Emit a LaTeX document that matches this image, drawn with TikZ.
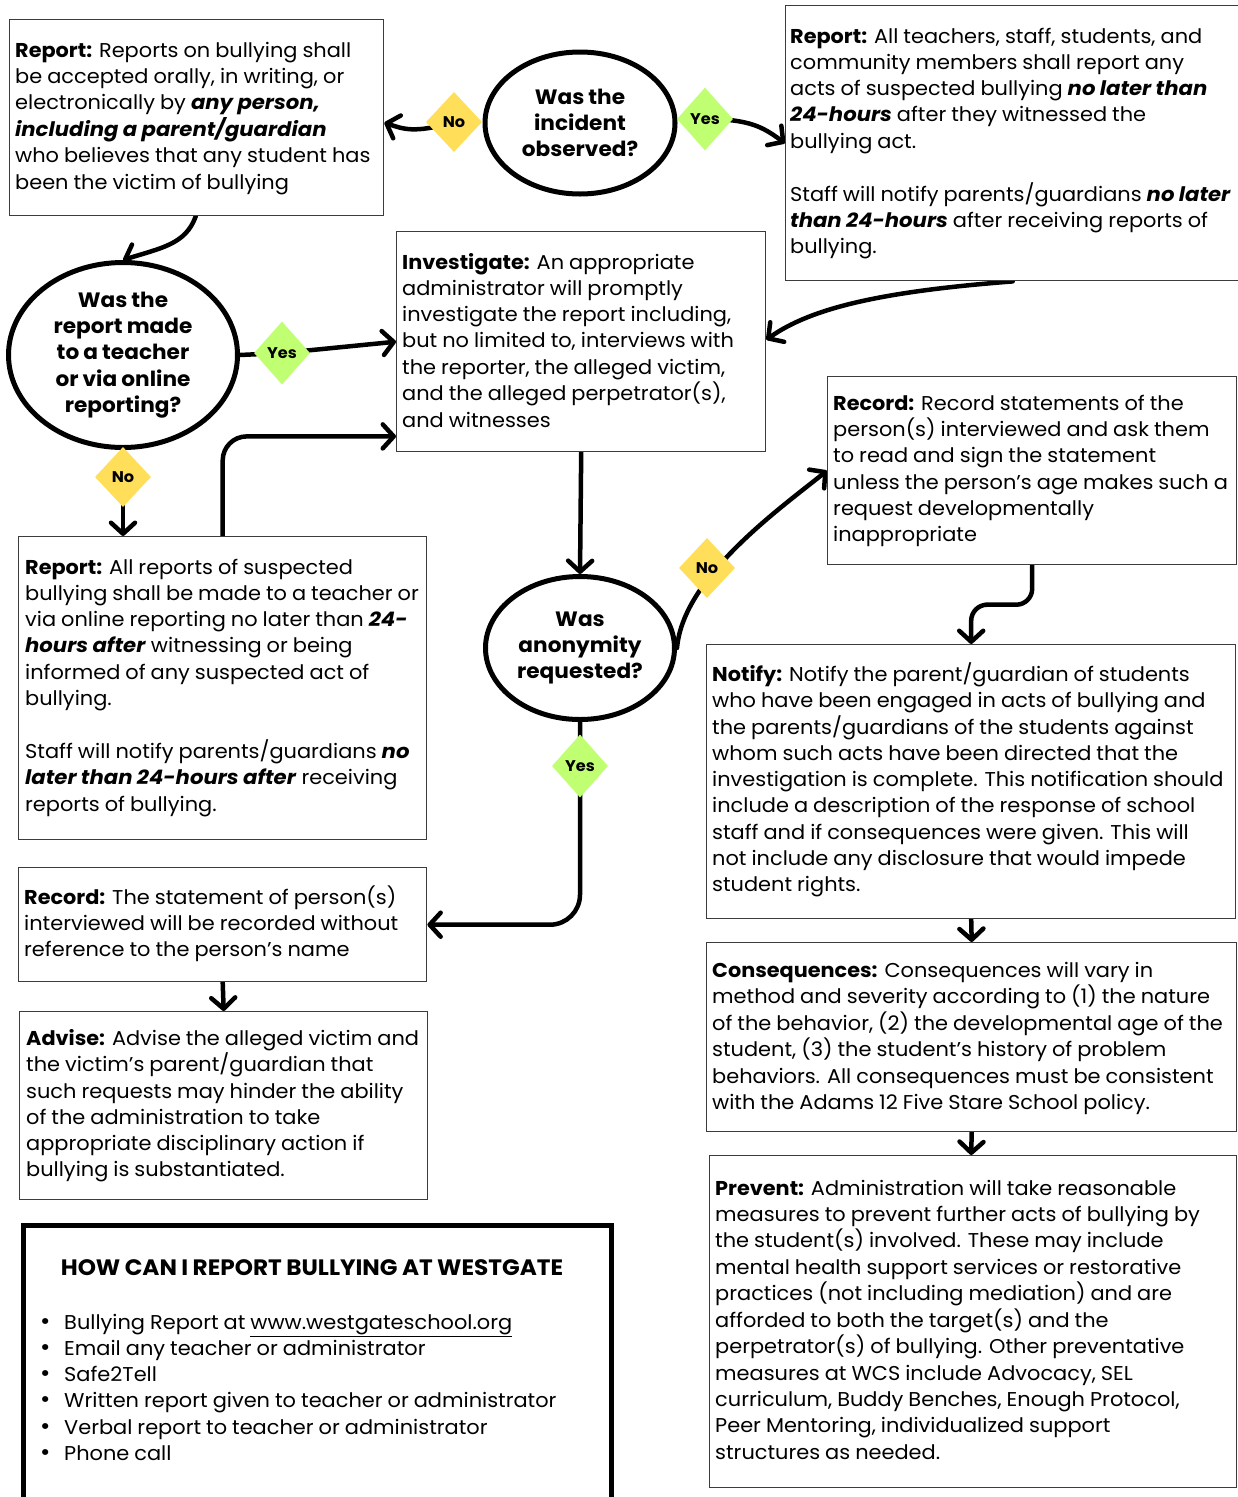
\documentclass[tikz,border=0pt]{standalone}
\usepackage{fontspec}
\setmainfont{Poppins}[FakeStretch=1.045, WordSpace=0.9, BoldFeatures={FakeStretch=1.04}, BoldItalicFeatures={FakeStretch=1.06}]
\usetikzlibrary{shapes.geometric,arrows.meta,calc}
\definecolor{dyes}{HTML}{C1FF72}
\definecolor{dno}{HTML}{FFDE59}
\definecolor{boxline}{HTML}{3C3C3C}
\newcommand{\bodyf}{\fontsize{20}{26.3}\selectfont}
\newcommand{\tb}[1]{\begin{tabular}[t]{@{}l@{}}#1\end{tabular}}
\newcommand{\bi}[1]{\textbf{\textit{#1}}}
\newcommand{\bul}{{\fontsize{24}{20}\selectfont •}}
\pgfdeclarelayer{bg}
\pgfsetlayers{bg,main}
\begin{document}
\begin{tikzpicture}[x=1pt,y=-1pt,
  box/.style={draw=boxline, line width=1.4pt, fill=white, rectangle, anchor=north west, inner sep=0pt},
  txt/.style={anchor=base west, inner sep=0pt, font=\bodyf, text=black},
  quest/.style={ellipse, draw=black, line width=5pt, fill=white, inner sep=0pt, align=center, font=\fontsize{20.8}{26.3}\selectfont\bfseries},
  yesd/.style={diamond, fill=dyes, inner sep=0pt, minimum width=56pt, minimum height=63pt, font=\fontsize{15.5}{18}\selectfont\bfseries},
  nod/.style={diamond, fill=dno, inner sep=0pt, minimum width=56pt, minimum height=60pt, font=\fontsize{15.5}{18}\selectfont\bfseries},
  conn/.style={draw=black, line width=4.5pt, line cap=round, line join=round, -{Straight Barb[length=11pt,width=24pt,round]}}
]
\begin{pgfonlayer}{bg}
\fill[white] (0,0) rectangle (1238,1497);
\end{pgfonlayer}
\useasboundingbox (0,0) rectangle (1238,1497);

% boxes
\node[box, minimum width=374pt, minimum height=196pt] (rep1) at (9,19) {};
\node[box, minimum width=470pt, minimum height=275pt] (trR) at (785,5) {};
\node[box, minimum width=369pt, minimum height=220pt] (inv) at (396,231) {};
\node[box, minimum width=409pt, minimum height=188pt] (rec2) at (827,376) {};
\node[box, minimum width=408pt, minimum height=303pt] (repL) at (18,536) {};
\node[box, minimum width=529pt, minimum height=274pt] (notify) at (706,644) {};
\node[box, minimum width=530pt, minimum height=189pt] (cons) at (706,942) {};
\node[box, minimum width=527pt, minimum height=332pt] (prev) at (709,1155) {};
\node[box, minimum width=408pt, minimum height=114pt] (recL) at (18,867) {};
\node[box, minimum width=408pt, minimum height=188pt] (adv) at (19,1011) {};
\node[box, draw=black, line width=5pt, minimum width=588pt, minimum height=300pt] (how) at (21,1223) {};

% question circles
\node[quest, minimum width=190pt, minimum height=142pt] (c1) at (580,123) {Was the\\incident\\observed?};
\node[quest, minimum width=229pt, minimum height=185pt] (c2) at (123,355) {Was the\\report made\\to a teacher\\or via online\\reporting?};
\node[quest, minimum width=189pt, minimum height=143pt] (c3) at (580,648) {Was\\anonymity\\requested?};

% decision diamonds
\node[nod] (n1) at (454,122) {No};
\node[yesd] (y1) at (705,119) {Yes};
\node[yesd] (y2) at (282,353) {Yes};
\node[nod] (n2) at (123,477) {No};
\node[nod] (n3) at (707,568) {No};
\node[yesd] (y3) at (580,766) {Yes};

% texts
\node[txt] (t1) at (15,57) {\tb{\textbf{Report:} Reports on bullying shall\\
be accepted orally, in writing, or\\
electronically by \bi{any person,}\\
\bi{including a parent/guardian}\\
who believes that any student has\\
been the victim of bullying}};

\node[txt] (t2) at (790,43) {\tb{\textbf{Report:} All teachers, staff, students, and\\
community members shall report any\\
acts of suspected bullying \bi{no later than}\\
\bi{24-hours} after they witnessed the\\
bullying act.\\
\\
Staff will notify parents/guardians \bi{no later}\\
\bi{than 24-hours} after receiving reports of\\
bullying.}};

\node[txt] (t3) at (402,269) {\tb{\textbf{Investigate:} An appropriate\\
administrator will promptly\\
investigate the report including,\\
but no limited to, interviews with\\
the reporter, the alleged victim,\\
and the alleged perpetrator(s),\\
and witnesses}};

\node[txt] (t4) at (833,410) {\tb{\textbf{Record:} Record statements of the\\
person(s) interviewed and ask them\\
to read and sign the statement\\
unless the person’s age makes such a\\
request developmentally\\
inappropriate}};

\node[txt] (t5) at (25,574) {\tb{\textbf{Report:} All reports of suspected\\
bullying shall be made to a teacher or\\
via online reporting no later than \bi{24-}\\
\bi{hours after} witnessing or being\\
informed of any suspected act of\\
bullying.\\
\\
Staff will notify parents/guardians \bi{no}\\
\bi{later than 24-hours after} receiving\\
reports of bullying.}};

\node[txt] (t6) at (712,681) {\tb{\textbf{Notify:} Notify the parent/guardian of students\\
who have been engaged in acts of bullying and\\
the parents/guardians of the students against\\
whom such acts have been directed that the\\
investigation is complete. This notification should\\
include a description of the response of school\\
staff and if consequences were given. This will\\
not include any disclosure that would impede\\
student rights.}};

\node[txt] (t7) at (712,977) {\tb{\textbf{Consequences:} Consequences will vary in\\
method and severity according to (1) the nature\\
of the behavior, (2) the developmental age of the\\
student, (3) the student’s history of problem\\
behaviors. All consequences must be consistent\\
with the Adams 12 Five Stare School policy.}};

\node[txt] (t8) at (715,1195) {\tb{\textbf{Prevent:} Administration will take reasonable\\
measures to prevent further acts of bullying by\\
the student(s) involved. These may include\\
mental health support services or restorative\\
practices (not including mediation) and are\\
afforded to both the target(s) and the\\
perpetrator(s) of bullying. Other preventative\\
measures at WCS include Advocacy, SEL\\
curriculum, Buddy Benches, Enough Protocol,\\
Peer Mentoring, individualized support\\
structures as needed.}};

\node[txt] (t9) at (24,904) {\tb{\textbf{Record:} The statement of person(s)\\
interviewed will be recorded without\\
reference to the person’s name}};

\node[txt] (t10) at (26,1045) {\tb{\textbf{Advise:} Advise the alleged victim and\\
the victim’s parent/guardian that\\
such requests may hinder the ability\\
of the administration to take\\
appropriate disciplinary action if\\
bullying is substantiated.}};

\node[anchor=base, inner sep=0pt, font=\fontsize{22.3}{26}\selectfont\bfseries] (ttl) at (312,1275) {HOW CAN I REPORT BULLYING AT WESTGATE};

\node[txt] (t11) at (40,1329) {\begin{tabular}[t]{@{}p{24pt}@{}l@{}}
\bul & Bullying Report at \underline{www.westgateschool.org}\\
\bul & Email any teacher or administrator\\
\bul & Safe2Tell\\
\bul & Written report given to teacher or administrator\\
\bul & Verbal report to teacher or administrator\\
\bul & Phone call
\end{tabular}};

% connectors
\begin{pgfonlayer}{bg}
\draw[conn] (n1.center) .. controls +(-40,12) and +(18,6) .. ([yshift=-5pt]rep1.east);
\draw[conn] (y1.center) .. controls +(45,0) and +(-22,-16) .. (trR.west);
\draw[conn] ([xshift=-1pt]rep1.south) .. controls +(-10,28) and +(38,-12) .. (c2.north);
\draw[conn] (c2.east) -- (y2.center) -- (inv.west);
\draw[conn] (c2.south) -- (n2.center) -- (n2.center |- repL.north);
\draw[conn, rounded corners=24pt] (repL.north) |- ([yshift=16pt]inv.south west);
\draw[conn] ([xshift=-8pt]trR.south) .. controls +(-130,10) and +(45,-32) .. ([yshift=2pt]inv.east);
\draw[conn] (inv.south) -- (c3.north);
\draw[conn] (c3.east) .. controls +(6,-70) and +(-50,40) .. (rec2.west);
\coordinate (mid1) at ($(rec2.south)!0.5!(notify.north)$);
\draw[conn, rounded corners=16pt] (rec2.south) |- (mid1) -| (notify.north);
\draw[conn, rounded corners=30pt] (c3.south) -- (y3.center) |- (recL.east);
\draw[conn] (recL.south) -- (adv.north);
\draw[conn] (notify.south) -- (cons.north);
\draw[conn] (cons.south) -- ([xshift=-2pt]prev.north);
\end{pgfonlayer}
\end{tikzpicture}
\end{document}
